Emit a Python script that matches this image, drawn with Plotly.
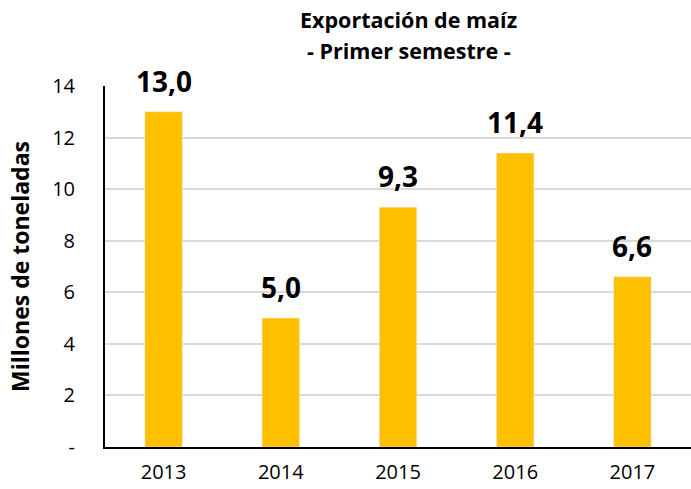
import plotly.graph_objects as go

years = ["2013", "2014", "2015", "2016", "2017"]
values = [13.0, 5.0, 9.3, 11.4, 6.6]
tick_vals = [0, 2, 4, 6, 8, 10, 12, 14]
tick_text = ["-", "2", "4", "6", "8", "10", "12", "14"]
title_lines = ["Exportación de maíz", "- Primer semestre -"]

labels = [f"{v:.1f}".replace(".", ",") for v in values]
FONT = "Open Sans"

fig = go.Figure(go.Bar(
    x=years, y=values, marker_color="#FFC000", width=0.32,
    hoverinfo="skip",
))

annotations = []
for i, (v, lab) in enumerate(zip(values, labels)):
    annotations.append(dict(
        x=i, y=v, xref="x", yref="y", text=f"<b>{lab}</b>", showarrow=False,
        yanchor="bottom", xanchor="center", yshift=10,
        font=dict(family=FONT, size=28, color="black"),
    ))

plot_h = 489 - 86 - 42
for line, ypx in zip(title_lines, [20, 50]):
    annotations.append(dict(
        text=f"<b>{line}</b>", xref="paper", yref="paper",
        x=(409 - 105) / 586, y=1 + (86 - ypx) / plot_h,
        xanchor="center", yanchor="middle", showarrow=False,
        font=dict(family=FONT, size=21.5, color="black"),
    ))

fig.update_layout(
    width=691, height=489,
    margin=dict(l=105, r=0, t=86, b=42),
    paper_bgcolor="white", plot_bgcolor="white",
    font=dict(family=FONT, color="black"),
    showlegend=False,
    annotations=annotations,
)

fig.update_xaxes(
    type="category", range=[-0.5, 4.5],
    showline=True, linecolor="black", linewidth=2,
    tickfont=dict(size=20), ticks="", showgrid=False, ticklabelstandoff=6,
)
fig.update_yaxes(
    range=[0, 14], tickvals=tick_vals, ticktext=tick_text,
    showline=True, linecolor="black", linewidth=2,
    showgrid=True, gridcolor="#D9D9D9", gridwidth=1.5,
    tickfont=dict(size=20), ticks="", ticklabelstandoff=24,
    title=dict(text="<b>Millones de toneladas</b>", font=dict(size=23), standoff=16),
    zeroline=False,
)

fig.write_html("out.html")
